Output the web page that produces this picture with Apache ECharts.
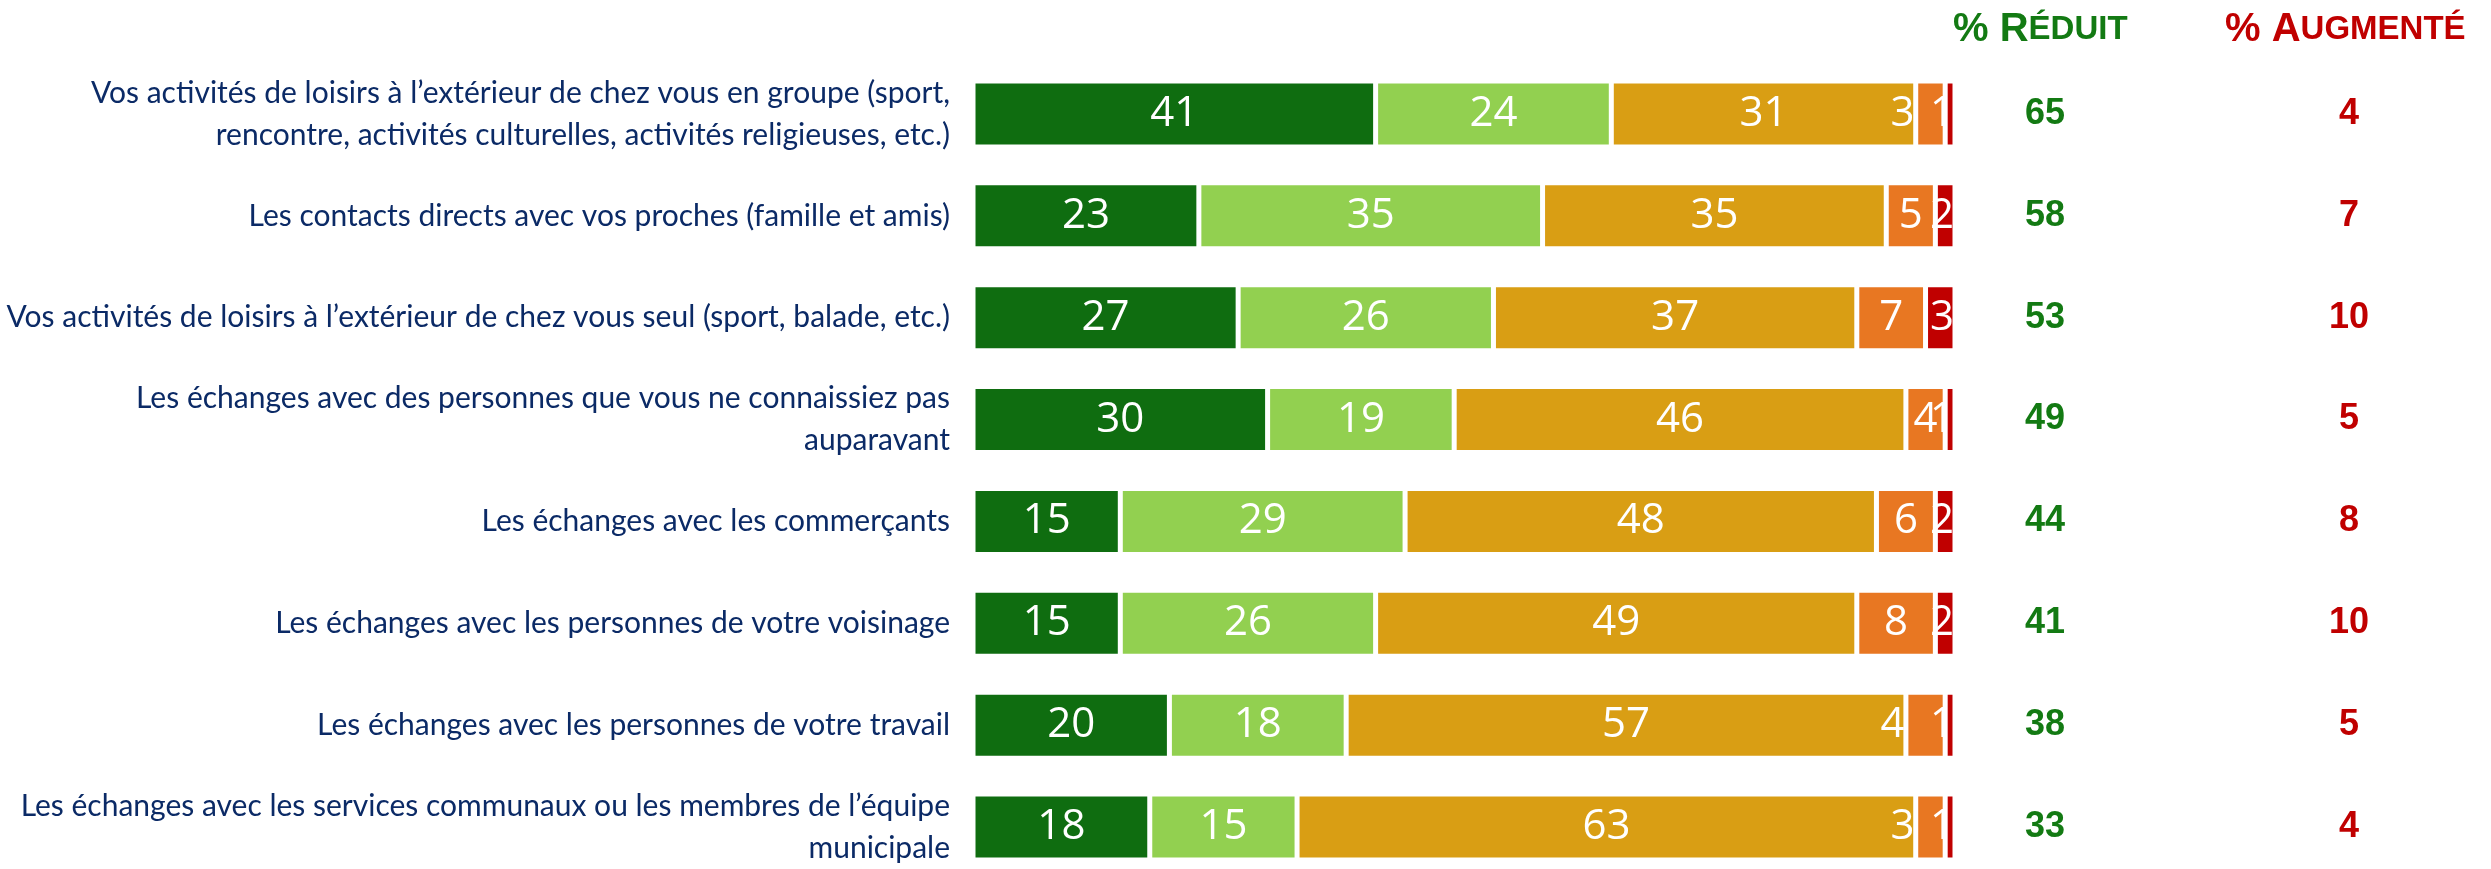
<!DOCTYPE html>
<html>
<head>
<meta charset="utf-8">
<script src="https://cdn.jsdelivr.net/npm/echarts@6/dist/echarts.min.js"></script>
<style>
  html, body { margin: 0; padding: 0; background: #ffffff; }
  #chart { width: 2491px; height: 869px; }
</style>
</head>
<body>
<div id="chart"></div>
<script>
// Items, top to bottom
const categories = [
  'Vos activités de loisirs à l’extérieur de chez vous en groupe (sport,\nrencontre, activités culturelles, activités religieuses, etc.)',
  'Les contacts directs avec vos proches (famille et amis)',
  'Vos activités de loisirs à l’extérieur de chez vous seul (sport, balade, etc.)',
  'Les échanges avec des personnes que vous ne connaissiez pas\nauparavant',
  'Les échanges avec les commerçants',
  'Les échanges avec les personnes de votre voisinage',
  'Les échanges avec les personnes de votre travail',
  'Les échanges avec les services communaux ou les membres de l’équipe\nmunicipale'
];

// Answer shares (%) per item
const fortementReduit   = [41, 23, 27, 30, 15, 15, 20, 18];
const unPeuReduit       = [24, 35, 26, 19, 29, 26, 18, 15];
const inchange          = [31, 35, 37, 46, 48, 49, 57, 63];
const unPeuAugmente     = [3, 5, 7, 4, 6, 8, 4, 3];
const fortementAugmente = [1, 2, 3, 1, 2, 2, 1, 1];

// Summary columns
const totalReduit   = [65, 58, 53, 49, 44, 41, 38, 33];
const totalAugmente = [4, 7, 10, 5, 8, 10, 5, 4];

const segmentColors = ['#0F6D10', '#92D050', '#D99E14', '#E87722', '#C00000'];
const navy = '#0B2A66';
const greenText = '#137A13';
const redText = '#C00000';

// horizontal nudge (px) for the "un peu augmenté" value labels
const orangeLabelShift = [-28, 0, 0, 0, 0, 0, -33, -28];

const chart = echarts.init(document.getElementById('chart'), null, { renderer: 'canvas' });

function segment(name, values, color, labelCfg, shifts) {
  return {
    name: name,
    type: 'bar',
    stack: 'total',
    barWidth: 66,
    clip: false,
    itemStyle: { color: color, borderColor: '#ffffff', borderWidth: 2.5 },
    label: Object.assign({
      show: true,
      position: 'inside',
      color: '#ffffff',
      fontFamily: 'Open Sans',
      fontSize: 42,
      formatter: '{c}'
    }, labelCfg || {}),
    data: values.map((v, i) => {
      const item = { value: v };
      if (shifts && shifts[i]) item.label = { offset: [shifts[i], 0] };
      return item;
    })
  };
}

function summaryAxis(values, margin, color) {
  return {
    type: 'category',
    data: values.map(String),
    inverse: true,
    boundaryGap: false,
    position: 'right',
    axisLine: { show: false },
    axisTick: { show: false },
    splitLine: { show: false },
    axisLabel: {
      margin: margin,
      align: 'center',
      color: color,
      fontFamily: 'Liberation Sans',
      fontWeight: 'bold',
      fontSize: 36
    }
  };
}

// "% R" + small-cap "ÉDUIT", the small caps sharing the cap line of the capital
function headerRich(color) {
  return {
    a: { fontFamily: 'Liberation Sans', fontWeight: 'bold', fontSize: 40, fill: color, lineHeight: 44, verticalAlign: 'bottom' },
    b: { fontFamily: 'Liberation Sans', fontWeight: 'bold', fontSize: 33, fill: color, lineHeight: 44, verticalAlign: 'bottom', padding: [0, 0, 4, 0] }
  };
}

const option = {
  animation: false,
  backgroundColor: '#ffffff',
  // first and last rows sit on the top and bottom edges of the grid
  grid: { left: 973, top: 114, width: 982, height: 720, containLabel: false },
  xAxis: { type: 'value', min: 0, max: 100, show: false },
  yAxis: [
    {
      type: 'category',
      data: categories,
      inverse: true,
      boundaryGap: false,
      axisLine: { show: false },
      axisTick: { show: false },
      splitLine: { show: false },
      axisLabel: {
        margin: 23,
        color: navy,
        fontFamily: 'Lato',
        fontSize: 30,
        lineHeight: 42,
        align: 'right'
      }
    },
    summaryAxis(totalReduit, 90, greenText),
    summaryAxis(totalAugmente, 394, redText)
  ],
  graphic: [
    {
      type: 'text', left: 1953, top: 10,
      style: { text: '{a|% R}{b|ÉDUIT}', rich: headerRich(greenText) }
    },
    {
      type: 'text', left: 2225, top: 10,
      style: { text: '{a|% A}{b|UGMENTÉ}', rich: headerRich(redText) }
    }
  ],
  series: [
    segment('Fortement réduit', fortementReduit, segmentColors[0]),
    segment('Un peu réduit', unPeuReduit, segmentColors[1]),
    segment('Inchangé', inchange, segmentColors[2]),
    segment('Un peu augmenté', unPeuAugmente, segmentColors[3], null, orangeLabelShift),
    segment('Fortement augmenté', fortementAugmente, segmentColors[4], { position: 'insideRight', distance: 1 })
  ]
};

chart.setOption(option);
</script>
</body>
</html>
